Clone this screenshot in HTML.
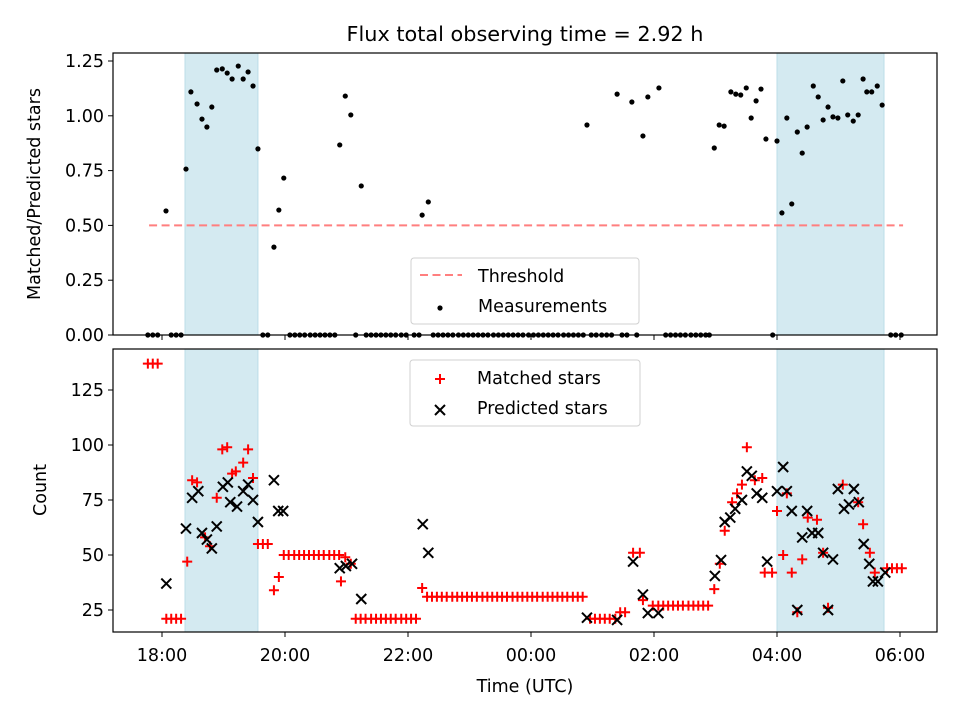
<!DOCTYPE html>
<html><head><meta charset="utf-8"><style>
html,body{margin:0;padding:0;background:#fff}
svg{display:block;font-family:"DejaVu Sans","Liberation Sans",sans-serif}
</style></head><body>
<svg id="chart" width="960" height="720" viewBox="0 0 960 720" xmlns="http://www.w3.org/2000/svg">
<text x="525" y="41" font-size="20.8" text-anchor="middle">Flux total observing time = 2.92 h</text>
<g id="topPanel"></g>
<g id="botPanel"></g>
<text transform="translate(40,194) rotate(-90)" font-size="17.5" text-anchor="middle">Matched/Predicted stars</text>
<text transform="translate(46,490) rotate(-90)" font-size="17.5" text-anchor="middle">Count</text>
<text x="525" y="692" font-size="17.5" text-anchor="middle">Time (UTC)</text>
</svg>
<script>
// hours after 18:00 UTC
const xTickHours = [0, 2, 4, 6, 8, 10, 12];
const xTickLabels = ["18:00", "20:00", "22:00", "00:00", "02:00", "04:00", "06:00"];
const spans = [[0.374, 1.56], [10.0, 11.74]];
const threshold = 0.5;
const thresholdRange = [-0.21, 12.05];
const topTicks = [0, 0.25, 0.5, 0.75, 1.0, 1.25];
const topTickLabels = ["0.00", "0.25", "0.50", "0.75", "1.00", "1.25"];
const botTicks = [25, 50, 75, 100, 125];
const ratioTimes = [0.065,0.39,0.47,0.57,0.65,0.73,0.81,0.89,0.98,1.06,1.14,1.24,1.32,1.40,1.48,1.56,1.82,1.90,1.98,2.89,2.98,3.07,3.24,4.23,4.33,6.91,7.40,7.64,7.82,7.90,8.08,8.98,9.06,9.14,9.25,9.33,9.41,9.50,9.58,9.66,9.74,9.82,10.0,10.08,10.16,10.24,10.33,10.41,10.49,10.59,10.67,10.75,10.83,10.91,10.99,11.07,11.15,11.24,11.32,11.40,11.46,11.54,11.63,11.71];
const ratioValues = [0.566,0.757,1.109,1.054,0.985,0.949,1.040,1.209,1.214,1.195,1.168,1.227,1.168,1.200,1.136,0.849,0.401,0.570,0.716,0.867,1.090,1.004,0.680,0.547,0.607,0.958,1.099,1.063,0.908,1.086,1.127,0.853,0.958,0.953,1.109,1.099,1.095,1.127,0.990,1.068,1.122,0.894,0.885,0.557,0.990,0.598,0.926,0.830,0.949,1.136,1.086,0.981,1.040,0.995,0.990,1.159,1.004,0.976,1.004,1.168,1.109,1.109,1.136,1.049];
const zeroTimes = [-0.23,-0.15,-0.07,0.15,0.23,0.31,1.64,1.72,2.08,2.16,2.24,2.32,2.41,2.49,2.57,2.65,2.73,2.81,3.15,3.32,3.40,3.48,3.56,3.64,3.72,3.80,3.89,3.97,4.10,4.18,4.41,4.49,4.57,4.65,4.73,4.82,4.90,4.98,5.06,5.14,5.22,5.30,5.39,5.47,5.55,5.63,5.71,5.79,5.87,5.96,6.04,6.12,6.20,6.28,6.36,6.44,6.53,6.61,6.69,6.77,6.85,6.98,7.06,7.15,7.23,7.31,7.48,7.56,7.72,8.19,8.27,8.35,8.43,8.51,8.60,8.68,8.76,8.84,8.90,9.93,11.85,11.93,12.02];
const matchedTimes = [-0.23,-0.15,-0.07,0.07,0.15,0.23,0.31,0.41,0.49,0.57,0.70,0.78,0.89,0.98,1.06,1.14,1.20,1.32,1.40,1.48,1.56,1.64,1.72,1.82,1.90,1.98,2.06,2.15,2.23,2.31,2.39,2.47,2.55,2.63,2.72,2.80,2.88,2.91,2.98,3.07,3.15,3.23,3.31,3.40,3.48,3.56,3.64,3.72,3.80,3.89,3.97,4.05,4.13,4.23,4.31,4.39,4.47,4.55,4.63,4.72,4.80,4.88,4.96,5.04,5.12,5.21,5.29,5.37,5.45,5.53,5.61,5.70,5.78,5.86,5.94,6.02,6.10,6.19,6.27,6.35,6.43,6.51,6.59,6.68,6.76,6.84,6.96,7.04,7.12,7.20,7.28,7.37,7.45,7.53,7.66,7.77,7.82,7.98,8.07,8.15,8.23,8.31,8.39,8.47,8.56,8.64,8.72,8.80,8.88,8.98,9.07,9.15,9.27,9.35,9.43,9.51,9.64,9.76,9.80,9.92,10.0,10.10,10.16,10.24,10.33,10.41,10.50,10.65,10.75,10.83,11.07,11.32,11.40,11.51,11.59,11.79,11.87,11.95,12.03];
const matchedCounts = [137,137,137,21,21,21,21,47,84,83,58,54,76,98,99,87,88,92,98,85,55,55,55,34,40,50,50,50,50,50,50,50,50,50,50,50,50,38,49,46,21,21,21,21,21,21,21,21,21,21,21,21,21,35,31,31,31,31,31,31,31,31,31,31,31,31,31,31,31,31,31,31,31,31,31,31,31,31,31,31,31,31,31,31,31,31,21,21,21,21,21,21,24,24,51,51,29.5,27,27,27,27,27,27,27,27,27,27,27,27,34.5,46,61,74,78,82,99,84,85,42,42,70,50,78,42,24,48,67,66,51,26,82,74,64,51,42,44,44,44,44];
const predictedTimes = [0.07,0.39,0.49,0.59,0.65,0.73,0.81,0.89,0.99,1.07,1.11,1.22,1.32,1.40,1.48,1.56,1.82,1.89,1.97,2.89,2.99,3.09,3.24,4.24,4.33,6.91,7.40,7.66,7.82,7.90,8.07,8.99,9.09,9.15,9.24,9.32,9.43,9.51,9.59,9.67,9.76,9.84,10.0,10.10,10.16,10.24,10.33,10.41,10.49,10.57,10.67,10.75,10.83,10.91,10.99,11.09,11.17,11.25,11.33,11.41,11.50,11.56,11.64,11.76];
const predictedCounts = [37,62,76,79,60,57,53,63,81,83,74,72,79,82,75,65,84,70,70,44,45,46,30,64,51,21.5,20.5,47,32,23.6,23.6,40.5,47.7,65,67,71,75,88,86,78,76,47,79,90,79,70,25,58,70,60,60,51,25,48,80,71,73,80,74,55,46,38,38,42];

const NS = "http://www.w3.org/2000/svg";
const L = 113, R = 937;
const xs = h => 162 + 61.5 * h;
const yTop = v => 335 - 219.2 * v;
const yBot = c => 610 - 2.2 * (c - 25);
function mk(parent, tag, attrs) {
  const e = document.createElementNS(NS, tag);
  for (const k in attrs) e.setAttribute(k, attrs[k]);
  parent.appendChild(e);
  return e;
}
function panel(g, y0, y1, yfun, ticks, labels, pname) {
  spans.forEach((s, i) => {
    const r = mk(g, "rect", {x: xs(s[0]), y: y0, width: xs(s[1]) - xs(s[0]), height: y1 - y0, fill: "#d4eaf1", stroke: "#bcdde8", "stroke-width": 1});
    
    
  });
  xTickHours.forEach((h, i) => {
    const t = mk(g, "line", {x1: xs(h), x2: xs(h), y1: y1, y2: y1 + 5, stroke: "#000", "stroke-width": 1});
    
    
    if (pname === 'bottom') {
      const tx = mk(g, "text", {x: xs(h), y: y1 + 29, "font-size": 17.5, "text-anchor": "middle"});
      tx.textContent = xTickLabels[i];
      
      
    }
  });
  ticks.forEach((v, i) => {
    const y = yfun(v);
    const t = mk(g, "line", {x1: L - 5, x2: L, y1: y, y2: y, stroke: "#000", "stroke-width": 1});
    
    
    const tx = mk(g, "text", {x: L - 9, y: y + 6, "font-size": 17.5, "text-anchor": "end"});
    tx.textContent = labels[i];
    
    
  });
}
function plus(g, x, y) {
  return mk(g, "path", {d: `M${x-5},${y}H${x+5}M${x},${y-5}V${y+5}`, stroke: "#ff0000", "stroke-width": 2, fill: "none"});
}
function cross(g, x, y) {
  return mk(g, "path", {d: `M${x-5},${y-5}L${x+5},${y+5}M${x-5},${y+5}L${x+5},${y-5}`, stroke: "#000", "stroke-width": 2, fill: "none"});
}
const topG = document.getElementById("topPanel");
const botG = document.getElementById("botPanel");
panel(topG, 53, 335, yTop, topTicks, topTickLabels, 'top');
panel(botG, 349, 632, yBot, botTicks, botTicks.map(String), 'bottom');

const th = mk(topG, "line", {x1: xs(thresholdRange[0]), x2: xs(thresholdRange[1]), y1: yTop(threshold), y2: yTop(threshold), stroke: "#ff7f7f", "stroke-width": 2, "stroke-dasharray": "8,4.5"});



ratioTimes.forEach((h, i) => {
  const c = mk(topG, "circle", {cx: xs(h), cy: yTop(ratioValues[i]), r: 2.6, fill: "#000"});
  
  
});
zeroTimes.forEach(h => {
  const c = mk(topG, "circle", {cx: xs(h), cy: yTop(0), r: 2.6, fill: "#000"});
  
  
});
matchedTimes.forEach((h, i) => {
  const p = plus(botG, xs(h), yBot(matchedCounts[i]));
  
  
});
predictedTimes.forEach((h, i) => {
  const p = cross(botG, xs(h), yBot(predictedCounts[i]));
  
  
});

const f1 = mk(topG, "rect", {x: L, y: 53, width: R - L, height: 282, fill: "none", stroke: "#000", "stroke-width": 1.2});


const f2 = mk(botG, "rect", {x: L, y: 349, width: R - L, height: 283, fill: "none", stroke: "#000", "stroke-width": 1.2});



const lg1 = mk(topG, "g", {});


mk(lg1, "rect", {x: 411, y: 258, width: 228, height: 66, rx: 3, fill: "#fff", "fill-opacity": 0.8, stroke: "#d0d0d0", "stroke-width": 1});
const e1 = mk(lg1, "line", {x1: 420, x2: 462, y1: 275, y2: 275, stroke: "#ff7f7f", "stroke-width": 2, "stroke-dasharray": "8,4.5"});


const t1 = mk(lg1, "text", {x: 478, y: 282, "font-size": 17.5}); t1.textContent = "Threshold";


mk(lg1, "circle", {cx: 440, cy: 308, r: 2.6, fill: "#000"});
const t2 = mk(lg1, "text", {x: 478, y: 312, "font-size": 17.5}); t2.textContent = "Measurements";



const lg2 = mk(botG, "g", {});


mk(lg2, "rect", {x: 410, y: 360, width: 230, height: 66, rx: 3, fill: "#fff", "fill-opacity": 0.8, stroke: "#d0d0d0", "stroke-width": 1});
plus(lg2, 440, 379);
const t3 = mk(lg2, "text", {x: 477, y: 384, "font-size": 17.5}); t3.textContent = "Matched stars";


cross(lg2, 440, 410);
const t4 = mk(lg2, "text", {x: 477, y: 414, "font-size": 17.5}); t4.textContent = "Predicted stars";


</script>
</body></html>
